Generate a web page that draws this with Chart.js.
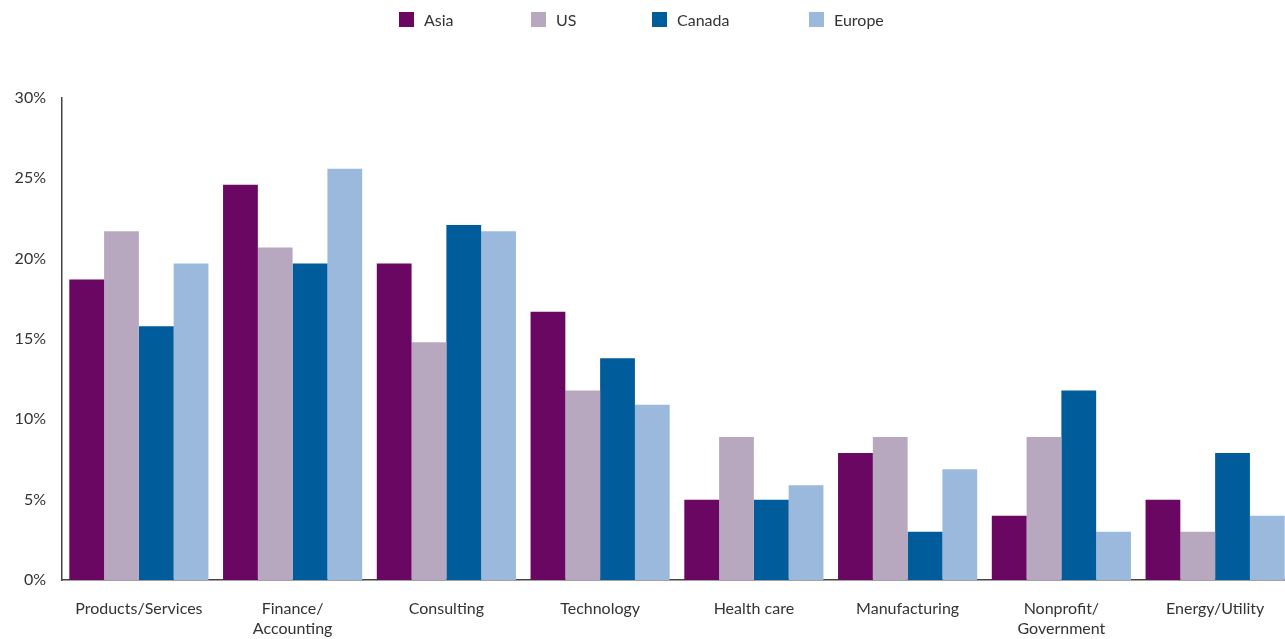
<!DOCTYPE html>
<html>
<head>
<meta charset="utf-8">
<script src="https://cdn.jsdelivr.net/npm/chart.js@4"></script>
<style>
  html, body { margin: 0; padding: 0; background: #fff; overflow: hidden; }
  #wrap { position: relative; width: 1285px; height: 639px; overflow: hidden; }
  /* plot runs slightly past the right edge */
  #plot { position: absolute; top: 0; left: 0; width: 1292px; height: 639px; }
  #chart { display: block; }
  #legend { position: absolute; top: 0; left: 0; width: 100%; height: 40px; font: 16px Lato, sans-serif; color: #333; z-index: 1; }
  .item { position: absolute; top: 10px; display: flex; align-items: center; }
  .swatch { width: 15px; height: 15px; margin-right: 10px; }
</style>
</head>
<body>
<div id="wrap">
  <div id="plot"><canvas id="chart"></canvas></div>
  <div id="legend"></div>
</div>
<script>
const categories = ['Products/Services', ['Finance/', 'Accounting'], 'Consulting', 'Technology',
  'Health care', 'Manufacturing', ['Nonprofit/', 'Government'], 'Energy/Utility'];
const seriesNames = ['Asia', 'US', 'Canada', 'Europe'];
const asia   = [18.7, 24.6, 19.7, 16.7, 5.0, 7.9, 4.0, 5.0];
const us     = [21.7, 20.7, 14.8, 11.8, 8.9, 8.9, 8.9, 3.0];
const canada = [15.8, 19.7, 22.1, 13.8, 5.0, 3.0, 11.8, 7.9];
const europe = [19.7, 25.6, 21.7, 10.9, 5.9, 6.9, 3.0, 4.0];
const yTicks = [0, 5, 10, 15, 20, 25, 30];

const colors = ['#690763', '#b8a8bf', '#005c9b', '#9bb9dd'];
const legendLeft = [399, 531, 652, 809];

// legend row above the plot
const legend = document.getElementById('legend');
seriesNames.forEach((name, i) => {
  const el = document.createElement('div');
  el.className = 'item';
  el.style.left = legendLeft[i] + 'px';
  el.innerHTML = `<span class="swatch" style="background:${colors[i]}"></span><span>${name}</span>`;
  legend.appendChild(el);
});

const values = [asia, us, canada, europe];

new Chart(document.getElementById('chart'), {
  type: 'bar',
  data: {
    labels: categories,
    datasets: seriesNames.map((name, i) => ({
      label: name,
      data: values[i],
      backgroundColor: colors[i],
      borderWidth: 0
    }))
  },
  options: {
    responsive: true,
    maintainAspectRatio: false,
    animation: false,
    layout: { padding: { top: 98, left: 1, right: 0, bottom: 0 } },
    datasets: { bar: { categoryPercentage: 0.905, barPercentage: 1.0 } },
    plugins: { legend: { display: false }, tooltip: { enabled: false } },
    scales: {
      x: {
        grid: { display: false, drawTicks: false },
        border: { display: true, color: '#444', width: 1.5 },
        ticks: { color: '#333', font: { family: 'Lato', size: 16, lineHeight: 1.3 }, padding: 18, maxRotation: 0, autoSkip: false },
        afterFit(scale) {
          scale.height = 59;
          scale.paddingLeft = 0;
          scale.paddingRight = 0;
        }
      },
      y: {
        min: 0,
        max: 30,
        afterBuildTicks(scale) { scale.ticks = yTicks.map(v => ({ value: v })); },
        grid: { display: false, drawTicks: false },
        border: { display: true, color: '#444', width: 1.5 },
        ticks: { color: '#333', font: { family: 'Lato', size: 16 }, padding: 16, callback: v => v + '%' },
        afterFit(scale) { scale.width = 61; }
      }
    }
  }
});
</script>
</body>
</html>
